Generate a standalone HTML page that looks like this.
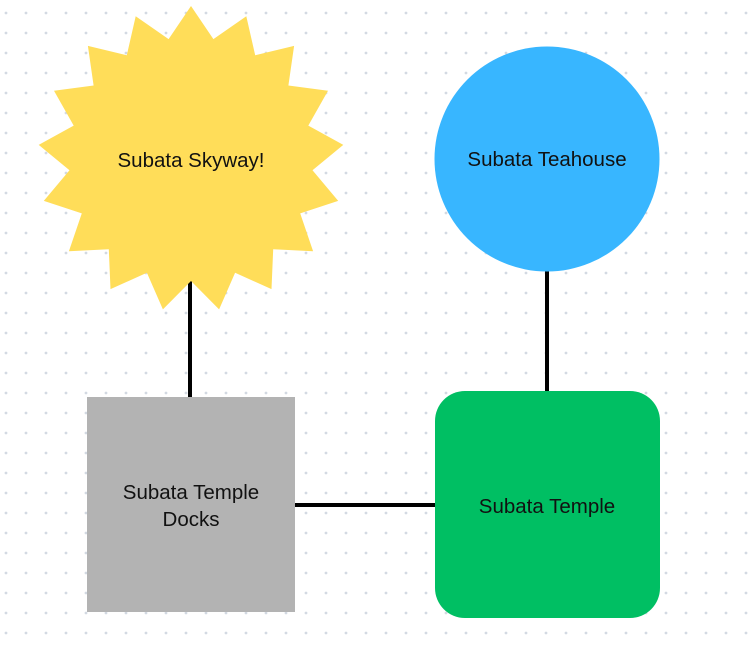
<!DOCTYPE html>
<html><head><meta charset="utf-8"><style>
html,body{margin:0;padding:0;background:#fff;}
svg{display:block}
text{font-family:"Liberation Sans",sans-serif;font-size:20.5px;fill:#111;}
</style></head><body>
<svg width="750" height="649" viewBox="0 0 750 649" xmlns="http://www.w3.org/2000/svg">
<defs>
<pattern id="dots" x="6" y="13" width="20" height="20" patternUnits="userSpaceOnUse">
<circle cx="0" cy="0" r="1.4" fill="#d3d9e2"/><circle cx="20" cy="0" r="1.4" fill="#d3d9e2"/>
<circle cx="0" cy="20" r="1.4" fill="#d3d9e2"/><circle cx="20" cy="20" r="1.4" fill="#d3d9e2"/>
</pattern>
</defs>
<rect x="0" y="0" width="750" height="649" fill="url(#dots)"/>
<g stroke="#000" stroke-width="4">
<line x1="190" y1="280" x2="190" y2="398"/>
<line x1="547" y1="265" x2="547" y2="392"/>
<line x1="294" y1="505" x2="436" y2="505"/>
</g>
<polygon id="star" fill="#ffdd59" points=""/>
<circle cx="547" cy="159" r="112.5" fill="#38b6ff"/>
<rect x="87" y="397" width="208" height="215" fill="#b3b3b3"/>
<rect x="435" y="391" width="225" height="227" rx="30" fill="#00bf63"/>
<text x="191" y="167" text-anchor="middle">Subata Skyway!</text>
<text x="547" y="166" text-anchor="middle">Subata Teahouse</text>
<text x="191" y="499" text-anchor="middle">Subata Temple</text>
<text x="191" y="526" text-anchor="middle">Docks</text>
<text x="547" y="513" text-anchor="middle">Subata Temple</text>
</svg>
<script>
(function(){var cx=191,cy=159,R=153,r=122,n=17,p=[];
for(var i=0;i<2*n;i++){var a=i*Math.PI/n,rr=i%2?r:R;p.push((cx+rr*Math.sin(a)).toFixed(1)+","+(cy-rr*Math.cos(a)).toFixed(1));}
document.getElementById("star").setAttribute("points",p.join(" "));})();
</script>
</body></html>
